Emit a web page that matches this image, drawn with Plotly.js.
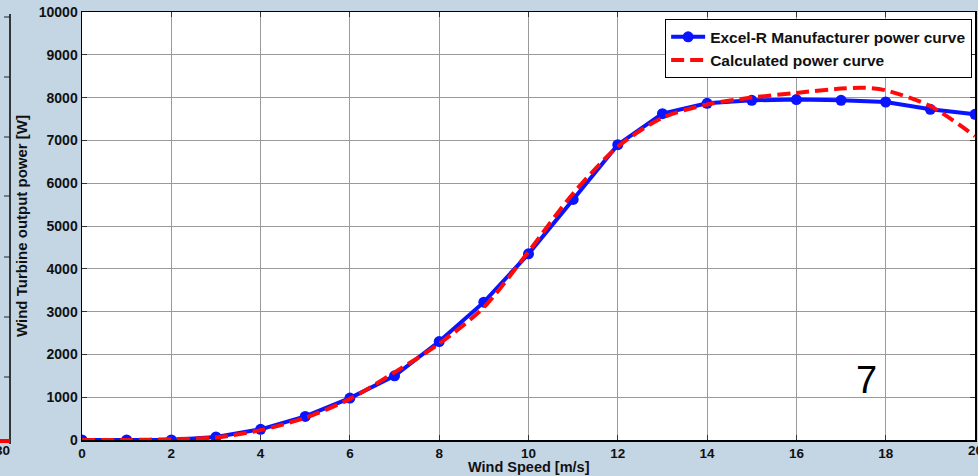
<!DOCTYPE html>
<html><head><meta charset="utf-8">
<script src="https://cdn.plot.ly/plotly-3.0.1.min.js"></script>
<style>html,body{margin:0;padding:0;background:#c4d6e4;}#chart{width:978px;height:476px;}</style>
</head><body><div id="chart"></div>
<script>
// Manufacturer power curve (Excel-R), W
const windSpeed = [0,1,2,3,4,5,6,7,8,9,10,11,12,13,14,15,16,17,18,19,20];
const manufacturerPower = [0,0,0,70,250,550,980,1500,2300,3220,4350,5620,6900,7625,7866,7937,7953,7937,7897,7726,7609];
// Calculated power curve, W
const calcSpeed = [0,1,2,3,4,5,6,7,8,9,10,11,12,13,14,15,16,17,17.5,18,19,20];
const calcPower = [0,0,20,60,230,520,960,1580,2250,3100,4400,5760,6850,7530,7840,8000,8110,8210,8230,8170,7800,7100];
const xTicks = [0,2,4,6,8,10,12,14,16,18,20];
const yTicks = [0,1000,2000,3000,4000,5000,6000,7000,8000,9000,10000];

const fam = '"Liberation Sans", Arial, sans-serif';
const font = {family:fam, size:14, color:'#111'};
const traces = [
 {x:windSpeed, y:manufacturerPower, type:'scatter', mode:'lines+markers', name:'<b>Excel-R Manufacturer power curve</b>',
  line:{color:'#0a14ff', width:4}, marker:{color:'#0a14ff', size:11}},
 {x:calcSpeed, y:calcPower, type:'scatter', mode:'lines', name:'<b>Calculated power curve</b>',
  line:{color:'#ff0a0a', width:4, dash:'13px,6px', shape:'spline', smoothing:0.8}}
];
const axCommon = {showline:true, linecolor:'#000', linewidth:1.5, mirror:'ticks', ticks:'inside', ticklen:5, tickcolor:'#333',
  showgrid:true, gridcolor:'#9a9a9a', gridwidth:1, zeroline:false, tickfont:{...font, size:14}};

// remnant of the neighbouring panel on the left edge
const leftTickPx = [17, 77, 137, 196, 257, 317, 377];
const pxX = px => (px - 82) / 893;
const pxY = py => (440 - py) / 428;
const shapes = [
  {type:'line', xref:'paper', yref:'paper', x0:pxX(10), x1:pxX(10), y0:pxY(444), y1:pxY(14), line:{color:'#000', width:1.5}},
  {type:'line', xref:'paper', yref:'paper', x0:pxX(0), x1:pxX(10), y0:pxY(441), y1:pxY(441), line:{color:'#f00', width:4}}
];
leftTickPx.forEach(p => shapes.push({type:'line', xref:'paper', yref:'paper', x0:pxX(4), x1:pxX(10), y0:pxY(p), y1:pxY(p), line:{color:'#222', width:1}}));

const layout = {
  width:978, height:476, margin:{l:82, r:3, t:12, b:36},
  paper_bgcolor:'#c4d6e4', plot_bgcolor:'#ffffff', font:font,
  showlegend:true,
  legend:{x:0.653, xanchor:'left', y:0.983, yanchor:'top', bgcolor:'#fff', bordercolor:'#000', borderwidth:1,
    font:{...font, size:15.5}, tracegroupgap:0, itemwidth:34},
  xaxis:{...axCommon, range:[0,20], tickvals:xTicks.slice(0,-1), ticktext:xTicks.slice(0,-1).map(v=>'<b>'+v+'</b>'),
    tickfont:{...font, size:13.5}, title:{text:'', font:{...font, size:15}}},
  yaxis:{...axCommon, range:[0,10000], tickvals:yTicks, ticktext:yTicks.map(v=>'<b>'+v+'</b>'),
    title:{text:'<b>Wind Turbine output power [W]</b>', font:{...font, size:15}, standoff:7}},
  annotations:[
    {x:0.5, y:0, xref:'paper', yref:'paper', xanchor:'center', yanchor:'top', yshift:-17, text:'<b>Wind Speed [m/s]</b>', showarrow:false, font:{...font, size:14.5}},
    {x:17.58, y:1400, xref:'x', yref:'y', text:'7', showarrow:false, font:{family:fam, size:38, color:'#000'}},
    {x:20, y:0, xref:'x', yref:'paper', xanchor:'center', yanchor:'top', yshift:-1, text:'<b>20</b>', showarrow:false, font:{...font, size:13.5}},
    {x:pxX(2), y:0, xref:'paper', yref:'paper', xanchor:'center', yanchor:'top', yshift:-1, text:'<b>30</b>', showarrow:false, font:{...font, size:13.5}}
  ],
  shapes:shapes
};
Plotly.newPlot('chart', traces, layout, {displayModeBar:false, staticPlot:true});
</script></body></html>
